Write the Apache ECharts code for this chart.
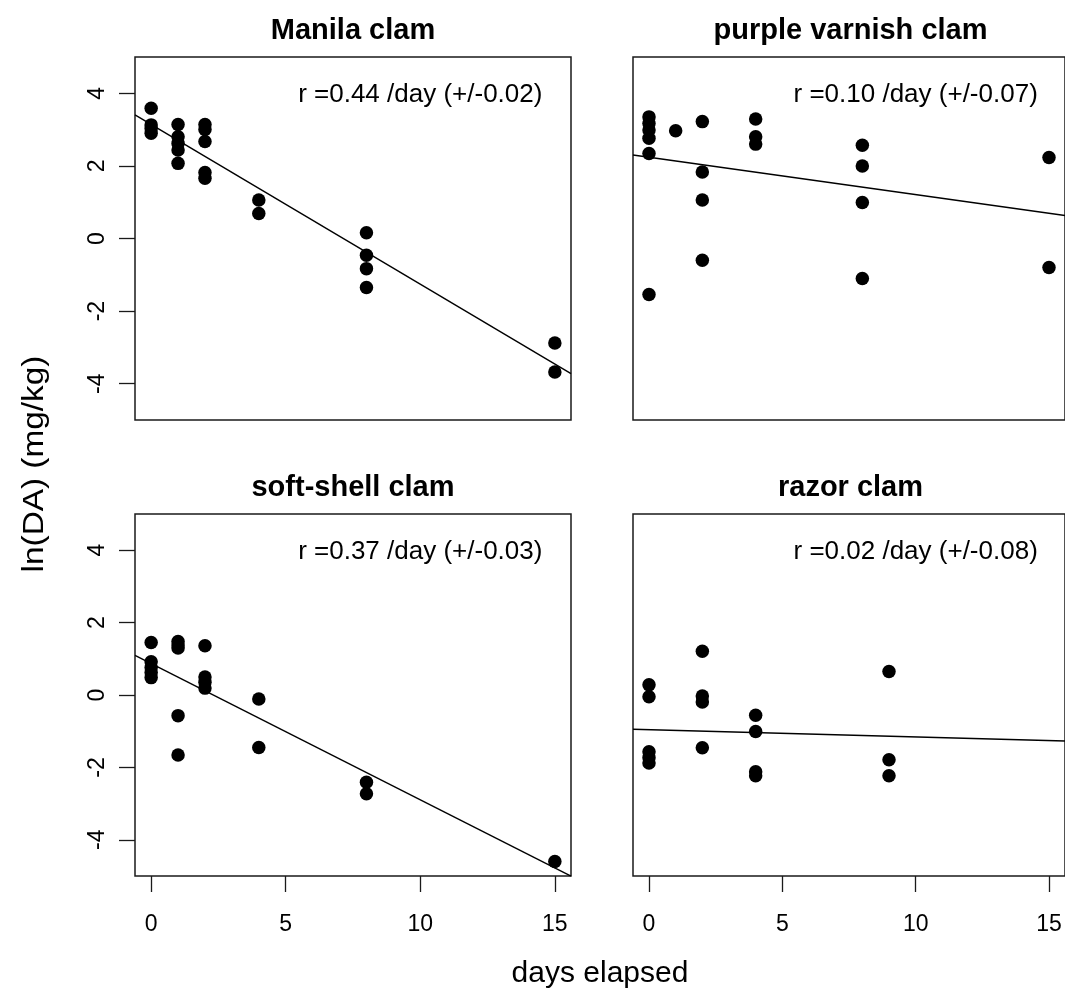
<!DOCTYPE html>
<html><head><meta charset="utf-8">
<script src="https://cdn.jsdelivr.net/npm/echarts@6/dist/echarts.min.js"></script>
<style>html,body{margin:0;padding:0;background:#fff}#c{width:1065px;height:1000px}</style>
</head><body><div id="c"></div>
<script>
const panelTitles = ['Manila clam', 'purple varnish clam', 'soft-shell clam', 'razor clam'];
const rateLabels = ['r =0.44 /day (+/-0.02)', 'r =0.10 /day (+/-0.07)', 'r =0.37 /day (+/-0.03)', 'r =0.02 /day (+/-0.08)'];

const manilaDays = [0,0,0,0, 1,1,1,1,1, 2,2,2,2,2, 4,4, 8,8,8,8, 15,15];
const manilaLnDA = [3.59,3.13,3.03,2.90, 3.14,2.80,2.62,2.44,2.07, 3.14,3.00,2.67,1.82,1.66, 1.06,0.69, 0.16,-0.46,-0.83,-1.35, -2.88,-3.68];

const purpleDays = [0,0,0,0,0,0, 1, 2,2,2,2, 4,4,4, 8,8,8,8, 15,15];
const purpleLnDA = [3.35,3.17,2.99,2.76,2.34,-1.54, 2.97, 3.22,1.83,1.06,-0.60, 3.29,2.80,2.60, 2.57,2.00,0.99,-1.10, 2.23,-0.80];

const softDays = [0,0,0,0,0, 1,1,1,1,1, 2,2,2,2, 4,4, 8,8, 15];
const softLnDA = [1.45,0.92,0.76,0.62,0.48, 1.48,1.38,1.30,-0.57,-1.66, 1.36,0.50,0.35,0.19, -0.11,-1.45, -2.41,-2.73, -4.60];

const razorDays = [0,0,0,0,0, 2,2,2,2, 4,4,4,4, 9,9,9];
const razorLnDA = [0.28,-0.05,-1.57,-1.73,-1.88, 1.21,-0.03,-0.19,-1.46, -0.56,-1.01,-2.12,-2.23, 0.65,-1.79,-2.23];

const fitIntercepts = [3.14, 2.24, 0.87, -0.96];
const fitSlopes = [-0.44, -0.103, -0.3765, -0.02];

const xTicks = [0, 5, 10, 15];
const yTicks = [-4, -2, 0, 2, 4];
const labelPos = [10, 4];

const xAxisLabel = 'days elapsed';
const yAxisLabel = 'ln(DA) (mg/kg)';

const panelDays = [manilaDays, purpleDays, softDays, razorDays];
const panelVals = [manilaLnDA, purpleLnDA, softLnDA, razorLnDA];

const XMIN = -0.6, XMAX = 15.6, YMIN = -5, YMAX = 5;
const FONT = '"Liberation Sans", Arial, Helvetica, sans-serif';
const INK = '#000';

const grids = [
  {left: 135, top: 57, width: 436, height: 363},
  {left: 633, top: 57, width: 435, height: 363},
  {left: 135, top: 514, width: 436, height: 362},
  {left: 633, top: 514, width: 435, height: 362}
].map(g => Object.assign({show: true, borderColor: '#1a1a1a', borderWidth: 1.5, backgroundColor: 'transparent'}, g));

const xAxes = [], yAxes = [], series = [], graphics = [];
for (let i = 0; i < 4; i++) {
  const bottom = i >= 2, leftP = (i % 2 === 0);
  xAxes.push({
    gridIndex: i, type: 'value', min: XMIN, max: XMAX, position: 'bottom',
    axisLine: {show: false, onZero: false}, splitLine: {show: false},
    axisTick: {show: bottom, customValues: xTicks, length: 16, inside: false, lineStyle: {color: '#1a1a1a', width: 1.3}},
    axisLabel: {show: bottom, customValues: xTicks, margin: 37, fontSize: 23, color: INK, fontFamily: FONT}
  });
  yAxes.push({
    gridIndex: i, type: 'value', min: YMIN, max: YMAX, position: 'left',
    axisLine: {show: false, onZero: false}, splitLine: {show: false},
    axisTick: {show: leftP, customValues: yTicks, length: 16, inside: false, lineStyle: {color: '#1a1a1a', width: 1.3}},
    axisLabel: {show: leftP, customValues: yTicks, rotate: 90, margin: 26, fontSize: 23, color: INK, fontFamily: FONT}
  });
  const pts = panelDays[i].map((d, k) => [d, panelVals[i][k]]);
  series.push({
    type: 'scatter', xAxisIndex: i, yAxisIndex: i, data: pts,
    symbol: 'circle', symbolSize: 13.5, itemStyle: {color: '#000', opacity: 1}, silent: true, z: 3
  });
  const a = fitIntercepts[i], b = fitSlopes[i];
  series.push({
    type: 'line', xAxisIndex: i, yAxisIndex: i, clip: true,
    data: [[XMIN, a + b * XMIN], [XMAX, a + b * XMAX]],
    symbol: 'none', lineStyle: {color: '#000', width: 1.4}, silent: true, z: 2
  });
  series.push({
    type: 'scatter', xAxisIndex: i, yAxisIndex: i, data: [labelPos],
    symbolSize: 0, silent: true, z: 4, itemStyle: {opacity: 1},
    label: {show: true, position: 'inside', offset: [0, 2], formatter: rateLabels[i], fontSize: 26, color: '#000', fontFamily: FONT, opacity: 1}
  });
  const g = grids[i];
  graphics.push({
    type: 'text',
    x: g.left + g.width / 2, y: g.top - 26,
    style: {text: panelTitles[i], font: 'bold 29px ' + FONT, fill: INK, textAlign: 'center', textVerticalAlign: 'middle'}
  });
}
graphics.push({
  type: 'text', x: 600, y: 974,
  style: {text: xAxisLabel, font: '30px ' + FONT, fill: INK, textAlign: 'center', textVerticalAlign: 'middle'}
});
graphics.push({
  type: 'text', x: 35, y: 464, rotation: Math.PI / 2, scaleX: 1.15,
  style: {text: yAxisLabel, font: '29px ' + FONT, fill: INK, textAlign: 'center', textVerticalAlign: 'middle'}
});

const chart = echarts.init(document.getElementById('c'), null, {renderer: 'canvas'});
chart.setOption({
  backgroundColor: '#fff',
  animation: false,
  grid: grids, xAxis: xAxes, yAxis: yAxes, series: series,
  graphic: graphics
});
</script>
</body></html>
